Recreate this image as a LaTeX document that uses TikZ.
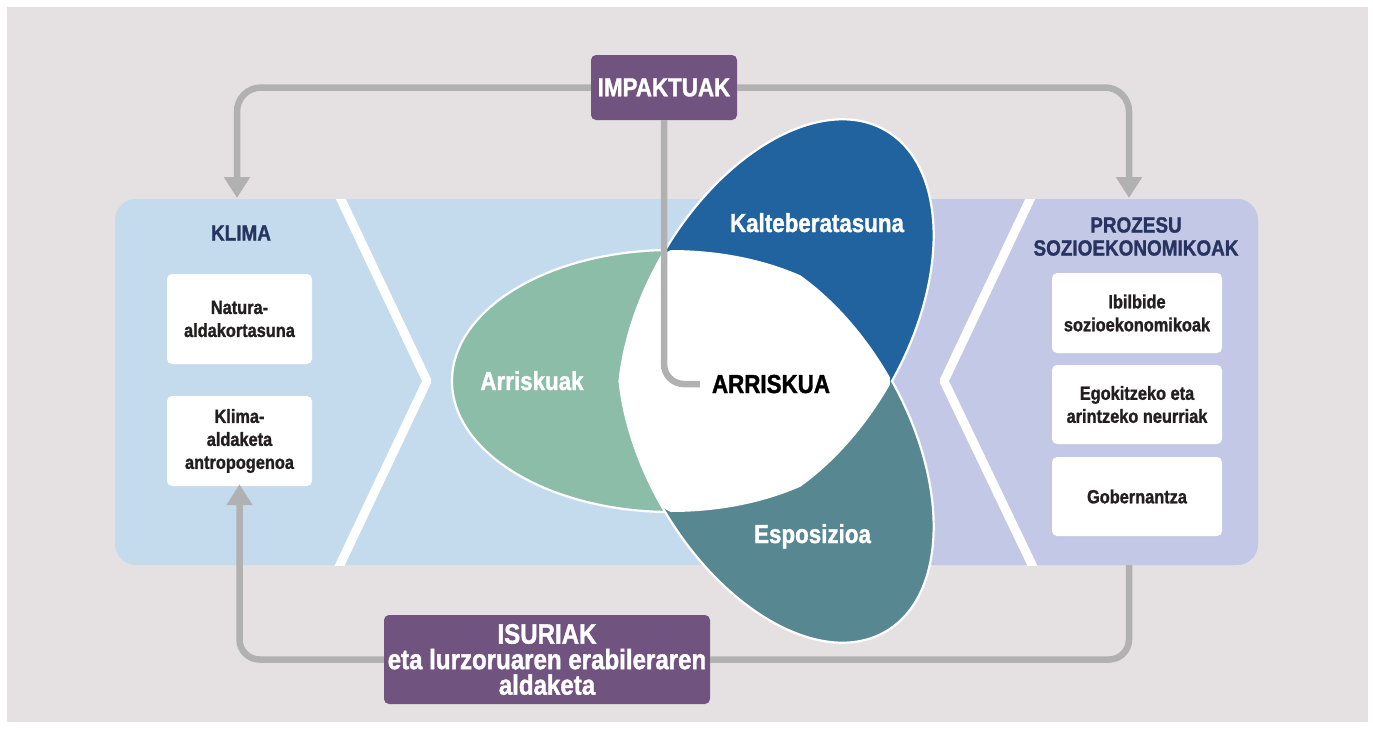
\documentclass[tikz,border=0pt]{standalone}
\usepackage{fontspec}
\newfontfamily\cf[FakeStretch=0.86, BoldFeatures={FakeBold=1.3}]{Liberation Sans}
\usetikzlibrary{arrows.meta}
\definecolor{bg}{HTML}{E5E1E3}
\definecolor{lblue}{HTML}{C4DBEE}
\definecolor{lav}{HTML}{C2C8E6}
\definecolor{purp}{HTML}{71537F}
\definecolor{cgray}{HTML}{B1B1B1}
\definecolor{cgreen}{HTML}{8CBDA9}
\definecolor{cblue}{HTML}{21639E}
\definecolor{cteal}{HTML}{578892}
\definecolor{navy}{HTML}{283460}
\definecolor{dark}{HTML}{231F20}
\tikzset{
  wbox/.style={fill=white, rounded corners=5pt, minimum width=145pt, inner sep=0pt, align=center, text=dark, font=\cf\bfseries\fontsize{19}{23}\selectfont},
  pbox/.style={fill=purp, rounded corners=5pt, inner sep=0pt, align=center, text=white},
  conn/.style={draw=cgray, line width=6.5pt, rounded corners=24pt},
  arrowed/.style={-{Triangle[width=25pt,length=21pt]}},
  ttl/.style={text=navy, align=center, inner sep=0pt, font=\cf\bfseries\fontsize{22}{23}\selectfont},
  petal/.style={text=white, inner sep=0pt, anchor=base, font=\cf\bfseries\fontsize{26}{30}\selectfont},
  chev/.style={draw=white, line width=9pt, line join=round},
  petaledge/.style={draw=white, line width=2.2pt},
}
\begin{document}
\begin{tikzpicture}[x=1pt,y=-1pt]
\useasboundingbox (0,0) rectangle (1373,729);
\fill[white] (0,0) rectangle (1373,729);
\fill[bg] (7,7) rectangle (1368,722);
% panels
\fill[lblue, rounded corners=21pt] (115,199) rectangle (1258,565);
\begin{scope}
  \clip (880,0) rectangle (1373,729);
  \fill[lav, rounded corners=21pt] (115,199) rectangle (1258,565);
\end{scope}
\begin{scope}
  \clip (115,199) rectangle (1258,565);
  \draw[chev] (338,193) -- (427,381) -- (338,569);
  \draw[chev] (1033,193) -- (944,381) -- (1034,569);
\end{scope}
% titles and boxes
\node[ttl] (klima) at (241,233) {KLIMA};
\node[ttl] (proz) at (1136,236.5) {PROZESU\\SOZIOEKONOMIKOAK};
\node[wbox, minimum height=90pt] (kb1) at (239.5,319) {Natura-\\aldakortasuna};
\node[wbox, minimum height=90pt] (kb2) at (239.5,441) {Klima-\\aldaketa\\antropogenoa};
\node[wbox, minimum width=170pt, minimum height=80pt] (pb1) at (1137,313) {Ibilbide\\sozioekonomikoak};
\node[wbox, minimum width=170pt, minimum height=79pt] (pb2) at (1137,404.5) {Egokitzeko eta\\arintzeko neurriak};
\node[wbox, minimum width=170pt, minimum height=79pt] (pb3) at (1137,496.5) {Gobernantza};
% petals
\filldraw[fill=cgreen, petaledge] (671,381) ellipse [x radius=219pt, y radius=131pt];
\begin{scope}
  \clip (400,0) rectangle (1000,381);
  \filldraw[fill=cblue, petaledge, rotate around={60:(776,320)}] (776,320) ellipse [x radius=219pt, y radius=131pt];
\end{scope}
\begin{scope}
  \clip (400,381) rectangle (1000,729);
  \filldraw[fill=cteal, petaledge, rotate around={-60:(776,442)}] (776,442) ellipse [x radius=219pt, y radius=131pt];
\end{scope}
\begin{scope}
  \clip (671,381) ellipse [x radius=219pt, y radius=131pt];
  \clip[rotate around={60:(776,320)}] (776,320) ellipse [x radius=219pt, y radius=131pt];
  \clip[rotate around={-60:(776,442)}] (776,442) ellipse [x radius=219pt, y radius=131pt];
  \fill[white] (400,0) rectangle (1000,729);
\end{scope}
\node[petal] (arriskuak) at (532,390) {Arriskuak};
\node[petal] (kalte) at (817,232) {Kalteberatasuna};
\node[petal] (espo) at (812.5,543) {Esposizioa};
\node[petal, text=black] (arr) at (771,393) {ARRISKUA};
% purple boxes
\node[pbox, minimum width=146pt, minimum height=65pt, font=\cf\bfseries\fontsize{26}{30}\selectfont] (imp) at (664,87.5) {IMPAKTUAK};
\node[pbox, minimum width=326pt, minimum height=89pt, font=\cf\bfseries\fontsize{28}{25.5}\selectfont] (isu) at (547,659.5) {ISURIAK\\eta lurzoruaren erabileraren\\aldaketa};
% connectors
\coordinate (klimain) at (237,198);
\coordinate (prozin) at (1129,198);
\coordinate (prozout) at (1129,565);
\draw[conn, arrowed] (imp.west) -| (klimain);
\draw[conn, arrowed] (imp.east) -| (prozin);
\draw[conn, rounded corners=20pt] (imp.south) |- ([xshift=-12pt]arr.west);
\draw[conn, rounded corners=20pt] (prozout) |- (isu.east);
\draw[conn, arrowed, rounded corners=20pt] (isu.west) -| ([yshift=2pt]kb2.south);
\end{tikzpicture}
\end{document}
